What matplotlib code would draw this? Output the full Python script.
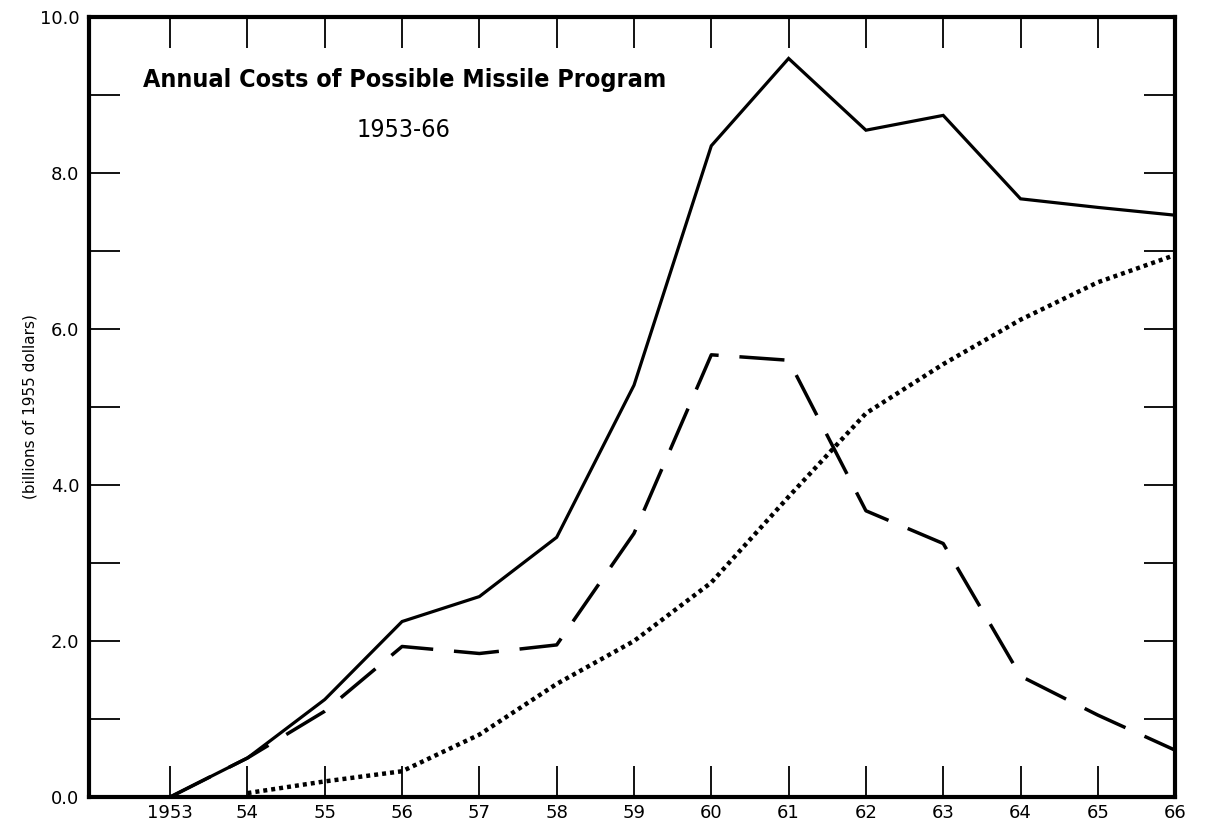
import matplotlib
matplotlib.use("Agg")
import matplotlib.pyplot as plt
from matplotlib.ticker import FixedLocator

# years and annual cost series (billions of 1955 dollars)
years = [1953, 1954, 1955, 1956, 1957, 1958, 1959, 1960, 1961, 1962, 1963, 1964, 1965, 1966]
total = [0.0, 0.5, 1.25, 2.25, 2.57, 3.33, 5.28, 8.35, 9.47, 8.55, 8.74, 7.67, 7.56, 7.46]
dev = [0.0, 0.5, 1.1, 1.93, 1.84, 1.95, 3.38, 5.67, 5.6, 3.67, 3.25, 1.55, 1.05, 0.6]
dot_years = years[1:]
ops = [0.05, 0.2, 0.33, 0.8, 1.45, 2.0, 2.75, 3.85, 4.92, 5.55, 6.12, 6.6, 6.95]
year_labels = ["1953", "54", "55", "56", "57", "58", "59", "60", "61", "62", "63", "64", "65", "66"]
y_ticks = list(range(11))
y_labels = [0, 2, 4, 6, 8, 10]

fig = plt.figure(figsize=(12.09, 8.23), dpi=100)
ax = fig.add_axes([0.0736, 0.0316, 0.8984, 0.9476])

ax.plot(years, total, color="black", lw=2.3, solid_joinstyle="miter")
ax.plot(years, dev, color="black", lw=2.5, dashes=(13, 6))
ax.plot(dot_years, ops, color="black", lw=3.2, dashes=(0.9, 0.9))

ax.set_xlim(1951.95, 1966)
ax.set_ylim(0, 10)

for s in ax.spines.values():
    s.set_linewidth(3)

# ticks drawn inside on all four sides
ax.xaxis.set_major_locator(FixedLocator(years))
ax.yaxis.set_major_locator(FixedLocator(y_ticks))
ax.tick_params(axis="both", which="major", direction="in", length=22, width=1.3,
               top=True, right=True, labelsize=13)
ax.set_xticklabels(year_labels)
ax.set_yticklabels(["%.1f" % v if v in y_labels else "" for v in y_ticks])
ax.tick_params(axis="x", pad=5)
ax.tick_params(axis="y", pad=7)

ax.set_ylabel("(billions of 1955 dollars)", fontsize=11)
ax.yaxis.set_label_coords(-0.047, 0.5)

ax.text(0.05, 0.919, "Annual Costs of Possible Missile Program", transform=ax.transAxes,
        ha="left", va="center", fontsize=18, fontweight="bold", fontstretch="condensed",
        family="DejaVu Sans")
ax.text(0.29, 0.855, "1953-66", transform=ax.transAxes,
        ha="center", va="center", fontsize=18, fontstretch="condensed",
        family="DejaVu Sans")

fig.savefig("out.png", dpi=100)
